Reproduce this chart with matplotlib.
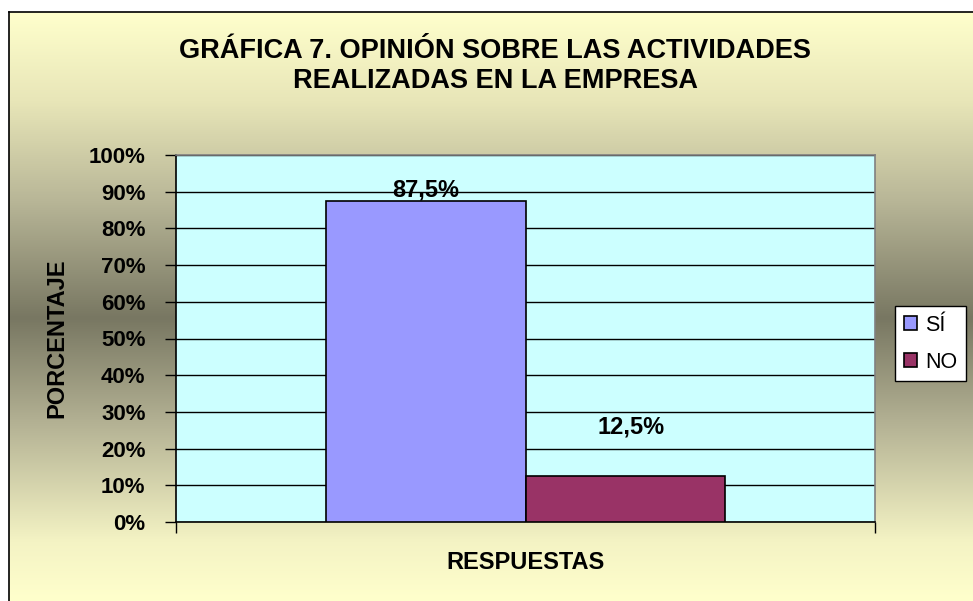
import numpy as np
import matplotlib.pyplot as plt
from matplotlib.colors import LinearSegmentedColormap

plt.rcParams["font.family"] = ["Liberation Sans", "DejaVu Sans"]

TITLE = "GRÁFICA 7. OPINIÓN SOBRE LAS ACTIVIDADES\nREALIZADAS EN LA EMPRESA"
SERIES = ["SÍ", "NO"]
VALUES = [87.5, 12.5]
LABELS = ["87,5%", "12,5%"]
COLORS = ["#9999FF", "#993366"]
Y_TICKS = [0, 10, 20, 30, 40, 50, 60, 70, 80, 90, 100]

W, H = 973, 601
fig = plt.figure(figsize=(W / 100, H / 100), dpi=100)
fig.patch.set_facecolor("white")

# chart area background: light yellow -> olive -> light yellow
bg = fig.add_axes([9 / W, 0, 1 - 9 / W, (H - 12) / H])
cmap = LinearSegmentedColormap.from_list(
    "bg",
    [(0.0, "#FFFFCC"), (0.15, "#E8E6B8"), (0.32, "#B8B697"),
     (0.52, "#787762"), (0.7, "#B4B294"), (0.9, "#F4F3C4"), (1.0, "#FFFFCC")])
grad = np.linspace(0, 1, 256).reshape(-1, 1)
bg.imshow(grad, aspect="auto", cmap=cmap, extent=[0, 1, 0, 1], origin="upper")
bg.set_xlim(0, 1)
bg.set_ylim(0, 1)
bg.set_xticks([])
bg.set_yticks([])
for side in ["right", "bottom"]:
    bg.spines[side].set_visible(False)
for side in ["left", "top"]:
    bg.spines[side].set_color("black")
    bg.spines[side].set_linewidth(1.2)

ax = fig.add_axes([176 / W, (H - 522) / H, 699 / W, 367 / H])
ax.set_facecolor("#CCFFFF")
width = 0.2855
xs = [-width / 2, width / 2]
ax.bar(xs, VALUES, width=width, color=COLORS, edgecolor="black",
       linewidth=1.2, zorder=3, label=SERIES)
bars = ax.patches

ax.text(xs[0], VALUES[0] - 0.3, LABELS[0], ha="center", va="bottom",
        fontsize=17, fontweight="bold", zorder=4)
ax.text(xs[1] + 0.008, 25.9, LABELS[1], ha="center", va="center",
        fontsize=17, fontweight="bold", zorder=4)

ax.set_xlim(-0.5, 0.5)
ax.set_ylim(0, 100)
ax.set_yticks(Y_TICKS)
ax.set_yticklabels([f"{v}%" for v in Y_TICKS], fontsize=16, fontweight="bold")
ax.set_xticks([-0.5, 0.5])
ax.set_xticklabels([])
ax.tick_params(axis="both", direction="out", length=8, width=1, color="black")
ax.tick_params(axis="y", pad=14)
ax.yaxis.grid(True, color="black", linewidth=1, zorder=1)
ax.set_axisbelow(True)
for side in ["top", "right"]:
    ax.spines[side].set_color("#808080")
    ax.spines[side].set_linewidth(1.2)
for side in ["left", "bottom"]:
    ax.spines[side].set_color("black")
    ax.spines[side].set_linewidth(1.2)

ax.set_ylabel("PORCENTAJE", fontsize=17, fontweight="bold")
ax.yaxis.set_label_coords((68 - 176) / 699, 0.5)
ax.set_xlabel("RESPUESTAS", fontsize=17, fontweight="bold")
ax.xaxis.set_label_coords(0.5, (522 - 551) / 367)

fig.text(495 / W, 1 - 66 / H, TITLE, ha="center", va="center",
         fontsize=19.5, fontweight="bold", linespacing=1.25)

leg = fig.legend(bars, SERIES, loc="upper left",
                 bbox_to_anchor=(895 / W, 1 - 306 / H), frameon=True,
                 fontsize=15.5, handlelength=0.6, handleheight=0.6,
                 handletextpad=0.4, borderpad=0.4, labelspacing=0.75,
                 fancybox=False, borderaxespad=0, framealpha=1)
leg.get_frame().set_edgecolor("black")
leg.get_frame().set_facecolor("white")
leg.get_frame().set_linewidth(1)

fig.savefig("out.png", dpi=100)
